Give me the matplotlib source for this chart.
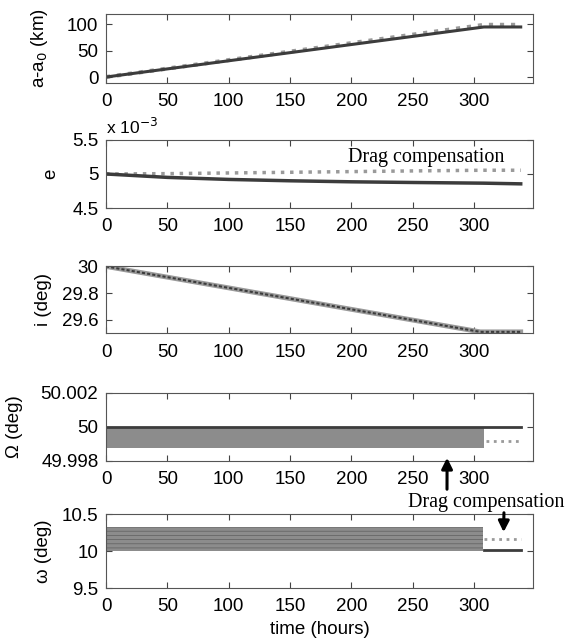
import numpy as np
import matplotlib.pyplot as plt

plt.rcParams['font.family'] = ['Liberation Sans', 'DejaVu Sans']
plt.rcParams['hatch.linewidth'] = 0.6

# semi-major axis change (km)
t_a = [0, 308, 338]
a_drag = [0, 95, 95]
a_comp = [0, 99, 99]

# eccentricity
t_e = [0, 50, 100, 150, 200, 250, 308, 338]
e_drag = [5.0e-3, 4.95e-3, 4.92e-3, 4.90e-3, 4.885e-3, 4.875e-3, 4.865e-3, 4.855e-3]
e_comp = [5.0e-3, 5.005e-3, 5.015e-3, 5.025e-3, 5.035e-3, 5.045e-3, 5.055e-3, 5.055e-3]

# inclination (deg)
t_i = [0, 305, 338]
i_drag = [30.0, 29.51, 29.51]
i_comp = [30.0, 29.51, 29.51]

# RAAN (deg): oscillation envelope, then steady values
t_O = [0, 308]
O_low = [49.99876, 49.99876]
O_high = [50.0, 50.0]
t_O_after = [310, 338]
O_drag = [50.0, 50.0]
O_comp = [49.99918, 49.99918]

# argument of perigee (deg)
t_w = [0, 307]
w_low = [10.0, 10.0]
w_high = [10.33, 10.33]
t_w_after = [308, 338]
w_drag = [10.02, 10.02]
w_comp = [10.16, 10.16]

dark = '#3c3c3c'
light = '#9a9a9a'
fs = 13.5

fig = plt.figure(figsize=(5.67, 6.42), dpi=100)
left, width = 0.187, 0.753
rows = [(0.871, 0.1075), (0.676, 0.106), (0.481, 0.104), (0.282, 0.106), (0.084, 0.115)]
axs = [fig.add_axes([left, b, width, h]) for b, h in rows]

for ax in axs:
    ax.set_xlim(0, 348)
    ax.set_xticks([0, 50, 100, 150, 200, 250, 300])
    ax.tick_params(direction='in', top=True, right=True, labelsize=fs, length=4,
                   color='#444444')
    ax.tick_params(axis='x', pad=7.5)
    ax.tick_params(axis='y', pad=5.5)
    for s in ax.spines.values():
        s.set_color('#555555')
        s.set_linewidth(0.8)

ax = axs[0]
ax.plot(t_a, a_comp, color=light, lw=3, ls=':')
ax.plot(t_a, a_drag, color=dark, lw=2.2)
ax.set_ylim(-11, 120)
ax.set_yticks([0, 50, 100])
ax.set_ylabel('a-a$_0$ (km)', fontsize=fs)
ax.yaxis.set_label_coords(-0.131, 0.5)

ax = axs[1]
ax.plot(t_e, np.array(e_comp) * 1e3, color=light, lw=2.5, ls=':')
ax.plot(t_e, np.array(e_drag) * 1e3, color=dark, lw=2.5)
ax.set_ylim(4.5, 5.5)
ax.set_yticks([4.5, 5, 5.5])
ax.set_yticklabels(['4.5', '5', '5.5'])
ax.set_ylabel('e', fontsize=fs)
ax.yaxis.set_label_coords(-0.110, 0.5)
ax.text(0.0, 1.04, 'x 10$^{-3}$', transform=ax.transAxes, fontsize=fs - 1, ha='left', va='bottom')
ax.text(0.567, 0.735, 'Drag compensation', transform=ax.transAxes, fontsize=14.5,
        family='Liberation Serif', ha='left', va='center')

ax = axs[2]
ax.plot(t_i, i_comp, color=light, lw=3.5)
ax.plot(t_i, i_drag, color=dark, lw=1.5, ls=(0, (1.5, 1)))
ax.set_ylim(29.5, 30.0)
ax.set_yticks([29.6, 29.8, 30])
ax.set_yticklabels(['29.6', '29.8', '30'])
ax.set_ylabel('i (deg)', fontsize=fs)
ax.yaxis.set_label_coords(-0.126, 0.5)

ax = axs[3]
ax.fill_between(t_O, O_low, O_high, color='#8c8c8c', lw=0)
ax.plot([0, 338], O_drag[:1] * 2, color=dark, lw=2)
ax.plot(t_O_after, O_comp, color=light, lw=2, ls=':')
ax.set_ylim(49.998, 50.002)
ax.set_yticks([49.998, 50, 50.002])
ax.set_yticklabels(['49.998', '50', '50.002'])
ax.set_ylabel('Ω (deg)', fontsize=fs)
ax.yaxis.set_label_coords(-0.194, 0.5)

ax = axs[4]
ax.fill_between(t_w, w_low, w_high, facecolor='#8c8c8c', lw=0, hatch='----', edgecolor='#666666')
ax.plot(t_w_after, w_drag, color=dark, lw=2)
ax.plot(t_w_after, w_comp, color=light, lw=2, ls=':')
ax.set_ylim(9.5, 10.5)
ax.set_yticks([9.5, 10, 10.5])
ax.set_yticklabels(['9.5', '10', '10.5'])
ax.set_ylabel('ω (deg)', fontsize=fs)
ax.yaxis.set_label_coords(-0.126, 0.5)
ax.set_xlabel('time (hours)', fontsize=fs, labelpad=4)

# shared annotation between the bottom two panels
fig.text(408 / 567, 1 - 503 / 642, 'Drag compensation', fontsize=14.5,
         family='Liberation Serif', ha='left', va='center')
axs[3].annotate('', xy=(278, 49.99835), xytext=(447 / 567, 1 - 492 / 642),
                textcoords='figure fraction',
                arrowprops=dict(arrowstyle='-|>', color='black', lw=2.2, mutation_scale=16))
axs[4].annotate('', xy=(324, 10.22), xytext=(504 / 567, 1 - 510 / 642),
                textcoords='figure fraction',
                arrowprops=dict(arrowstyle='-|>', color='black', lw=2.2, mutation_scale=16))

plt.savefig('out.png', dpi=100)
